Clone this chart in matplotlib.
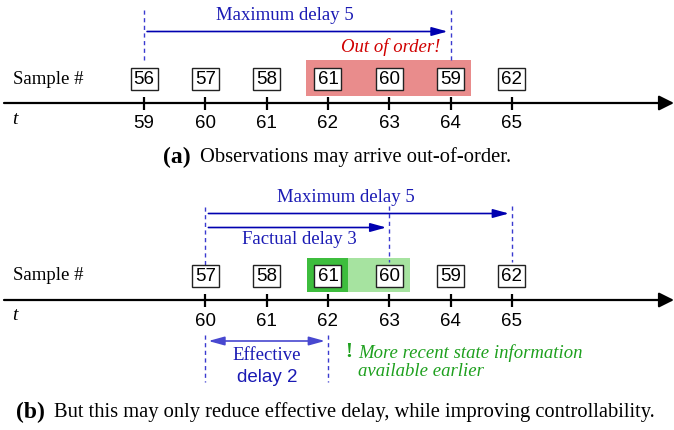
import matplotlib
matplotlib.use("Agg")
import matplotlib.pyplot as plt
from matplotlib.patches import Rectangle

# ---------------- data ----------------
times_a = [59, 60, 61, 62, 63, 64, 65]
samples_a = [56, 57, 58, 61, 60, 59, 62]
times_b = [60, 61, 62, 63, 64, 65]
samples_b = [57, 58, 61, 60, 59, 62]
caption_a = "Observations may arrive out-of-order."
caption_b = "But this may only reduce effective delay, while improving controllability."

SERIF = "Liberation Serif"
SANS = "Liberation Sans"
BLUE_TXT = "#1a1ab4"
BLUE_ARR = "#0000b0"
BLUE_DASH = "#3a3ad0"
RED_BG = "#e98c8c"
RED_TXT = "#d00000"
GREEN_DK = "#3dbd3d"
GREEN_LT = "#a6e3a0"
GREEN_TXT = "#1ea01e"

W, H = 674, 430
PX = 61.33                       # pixels per time unit
T0 = 59 - 144 / PX               # time at left edge
fig = plt.figure(figsize=(W / 100, H / 100), dpi=100)
ax = fig.add_axes([0, 0, 1, 1])
ax.set_xlim(T0, T0 + W / PX)
ax.set_ylim(H, 0)
ax.axis("off")


def tx(px):
    """pixel x -> time coordinate"""
    return T0 + px / PX


BOXW = 27 / PX
BOXH = 22


def timeline(y_axis, times, samples, y_box):
    ax.annotate("", xy=(tx(674), y_axis), xytext=(tx(4), y_axis),
                arrowprops=dict(arrowstyle="-|>,head_length=0.6,head_width=0.3",
                                mutation_scale=15, color="black", lw=1.6,
                                shrinkA=0, shrinkB=0))
    for t in times:
        ax.plot([t, t], [y_axis - 6, y_axis + 7], color="black", lw=1.6,
                solid_capstyle="butt")
        ax.text(t, y_axis + 21, str(t), ha="center", va="center",
                fontsize=13.5, family=SANS)
    for t, s in zip(times, samples):
        ax.add_patch(Rectangle((t - BOXW / 2, y_box - BOXH / 2), BOXW, BOXH,
                               facecolor="white", edgecolor="#222222", lw=1.0,
                               zorder=3))
        ax.text(t, y_box + 0.5, str(s), ha="center", va="center",
                fontsize=13.5, family=SANS, zorder=4)
    ax.text(tx(13), y_box, "Sample #", ha="left", va="center",
            fontsize=13.5, family=SERIF)
    ax.text(tx(12), y_axis + 16, "t", ha="left", va="center",
            fontsize=14, family=SERIF, style="italic")


def dashed(t, y0, y1):
    ax.plot([t, t], [y0, y1], color=BLUE_DASH, lw=1.0, ls=(0, (3, 2.5)))


def harrow(t0, t1, y, both=False, color=BLUE_ARR):
    style = "<|-|>" if both else "-|>"
    ax.annotate("", xy=(t1 - 0.05, y), xytext=(t0 + 0.05, y),
                arrowprops=dict(arrowstyle=style + ",head_length=0.8,head_width=0.22",
                                mutation_scale=12, color=color, lw=1.2,
                                shrinkA=0, shrinkB=0))


# ---------------- panel (a) ----------------
ya_axis, ya_box = 103, 79
ax.add_patch(Rectangle((tx(306), 60), (471 - 306) / PX, 36,
                       facecolor=RED_BG, edgecolor="none", zorder=1))
timeline(ya_axis, times_a, samples_a, ya_box)
dashed(59, 10, 63)
dashed(64, 10, 63)
harrow(59, 64, 31.5)
ax.text(tx(285), 16, "Maximum delay 5", ha="center", va="center",
        fontsize=13.5, family=SERIF, color=BLUE_TXT)
ax.text(tx(440), 47, "Out of order!", ha="right", va="center",
        fontsize=13.5, family=SERIF, style="italic", color=RED_TXT)
ax.text(tx(163), 157, "(a)", ha="left", va="center", fontsize=17,
        family=SERIF, weight="bold")
ax.text(tx(200), 157, caption_a, ha="left", va="center", fontsize=14.8,
        family=SERIF)

# ---------------- panel (b) ----------------
yb_axis, yb_box = 300, 276
ax.add_patch(Rectangle((tx(348), 258), (410 - 348) / PX, 34,
                       facecolor=GREEN_LT, edgecolor="none", zorder=1))
ax.add_patch(Rectangle((tx(307), 258), (348 - 307) / PX, 34,
                       facecolor=GREEN_DK, edgecolor="none", zorder=1))
timeline(yb_axis, times_b, samples_b, yb_box)
dashed(60, 207, 268)
dashed(63, 206, 262)
dashed(65, 206, 262)
dashed(60, 335, 382)
dashed(62, 335, 382)
harrow(60, 65, 213.5)
harrow(60, 63, 227.5)
ax.text(tx(346), 198, "Maximum delay 5", ha="center", va="center",
        fontsize=13.5, family=SERIF, color=BLUE_TXT)
ax.text(tx(299), 240, "Factual delay 3", ha="center", va="center",
        fontsize=13.5, family=SERIF, color=BLUE_TXT)
harrow(60, 62, 341, both=True, color="#4848d0")
ax.text(tx(267), 355, "Effective", ha="center", va="center",
        fontsize=13.5, family=SERIF, color=BLUE_TXT)
ax.text(tx(267), 377, "delay 2", ha="center", va="center",
        fontsize=13.5, family=SANS, color=BLUE_TXT)
ax.text(tx(345), 352, "!", ha="left", va="center", fontsize=15,
        family=SERIF, weight="bold", color=GREEN_TXT)
ax.text(tx(358), 353, "More recent state information", ha="left",
        va="center", fontsize=13.5, family=SERIF, style="italic",
        color=GREEN_TXT)
ax.text(tx(358), 371, "available earlier", ha="left", va="center",
        fontsize=13.5, family=SERIF, style="italic", color=GREEN_TXT)
ax.text(tx(16), 412, "(b)", ha="left", va="center", fontsize=17,
        family=SERIF, weight="bold")
ax.text(tx(54), 412, caption_b, ha="left", va="center", fontsize=14.8,
        family=SERIF)

fig.savefig("out.png", dpi=100)
